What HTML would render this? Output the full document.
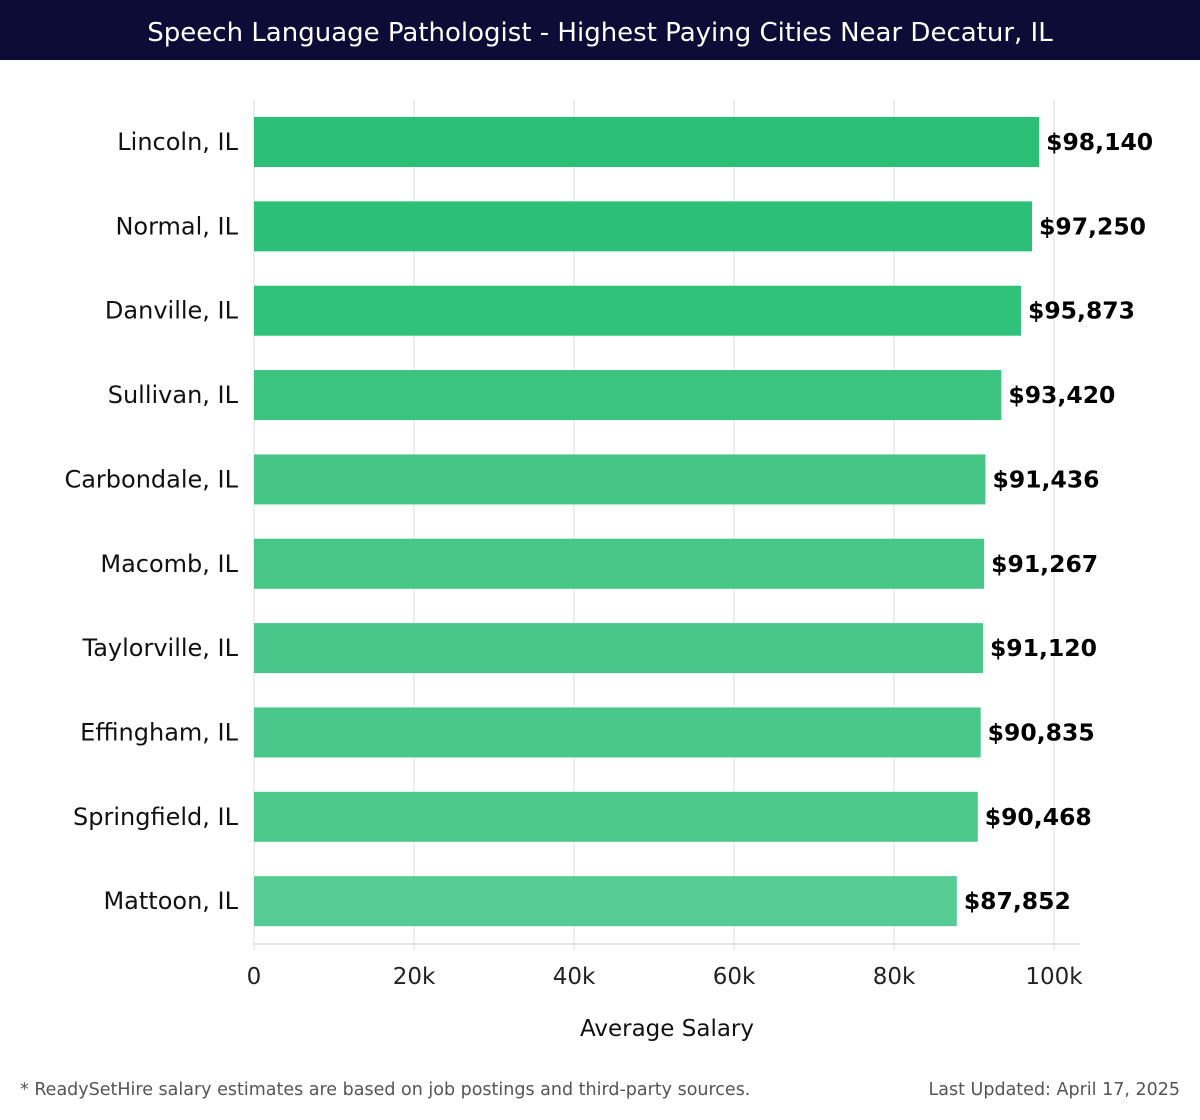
<!DOCTYPE html>
<html><head><meta charset="utf-8"><style>
body{margin:0;width:1200px;height:1120px;background:#fff;font-family:"DejaVu Sans","Liberation Sans",sans-serif;overflow:hidden}
#title{position:absolute;left:0;top:0;width:1200px;height:60px;background:#0c0c36;color:#fff;font-size:26px;text-align:center;line-height:66px;font-family:"DejaVu Sans","Liberation Sans",sans-serif}
.foot{position:absolute;top:1080px;font-size:17.5px;color:#555}
</style></head><body>
<div id="title">Speech Language Pathologist - Highest Paying Cities Near Decatur, IL</div>
<svg id="chart" width="1200" height="1120" style="position:absolute;left:0;top:0"></svg>
<div class="foot" style="left:20px">* ReadySetHire salary estimates are based on job postings and third-party sources.</div>
<div class="foot" style="right:20px">Last Updated: April 17, 2025</div>
<script>
const categories=["Lincoln, IL","Normal, IL","Danville, IL","Sullivan, IL","Carbondale, IL","Macomb, IL","Taylorville, IL","Effingham, IL","Springfield, IL","Mattoon, IL"];
const values=[98140,97250,95873,93420,91436,91267,91120,90835,90468,87852];
const tickValues=[0,20000,40000,60000,80000,100000];
const tickLabels=["0","20k","40k","60k","80k","100k"];
const NS="http://www.w3.org/2000/svg";
const svg=document.getElementById('chart');
const x=v=>254+v/100000*800;
const top0=100,step=84.35;
const yc=i=>top0+42+i*step;
function mk(t,a,p){const e=document.createElementNS(NS,t);for(const k in a)e.setAttribute(k,a[k]);(p||svg).appendChild(e);return e;}
tickValues.forEach((t,i)=>{
 const g=mk('line',{x1:x(t),x2:x(t),y1:100,y2:950,stroke:'#ddd','stroke-width':1});
 
 
 const l=mk('text',{x:x(t),y:984,'text-anchor':'middle','font-size':23,fill:'#222'});
 l.textContent=tickLabels[i];
 
 
});
const ax=mk('line',{x1:254,x2:1080,y1:944,y2:944,stroke:'#ccc','stroke-width':1});


const cols=["#2abf75","#2cc077","#30c17a","#3bc480","#45c687","#47c688","#48c689","#4ac78a","#4cc88b","#57cb94"];
categories.forEach((c,i)=>{
 const b=mk('rect',{x:x(0),y:yc(i)-25,width:x(values[i])-x(0),height:50,fill:cols[i]});
 
 
 const l=mk('text',{x:238,y:yc(i)+8,'text-anchor':'end','font-size':24,fill:'#111'});
 l.textContent=c;
 
 
 const v=mk('text',{x:x(values[i])+7,y:yc(i)+8,'font-size':23.5,'font-weight':'bold',fill:'#000'});
 v.textContent='$'+values[i].toLocaleString('en-US');
 
 
});
const at=mk('text',{x:667,y:1036,'text-anchor':'middle','font-size':23,fill:'#111'});
at.textContent='Average Salary';


</script>
</body></html>
